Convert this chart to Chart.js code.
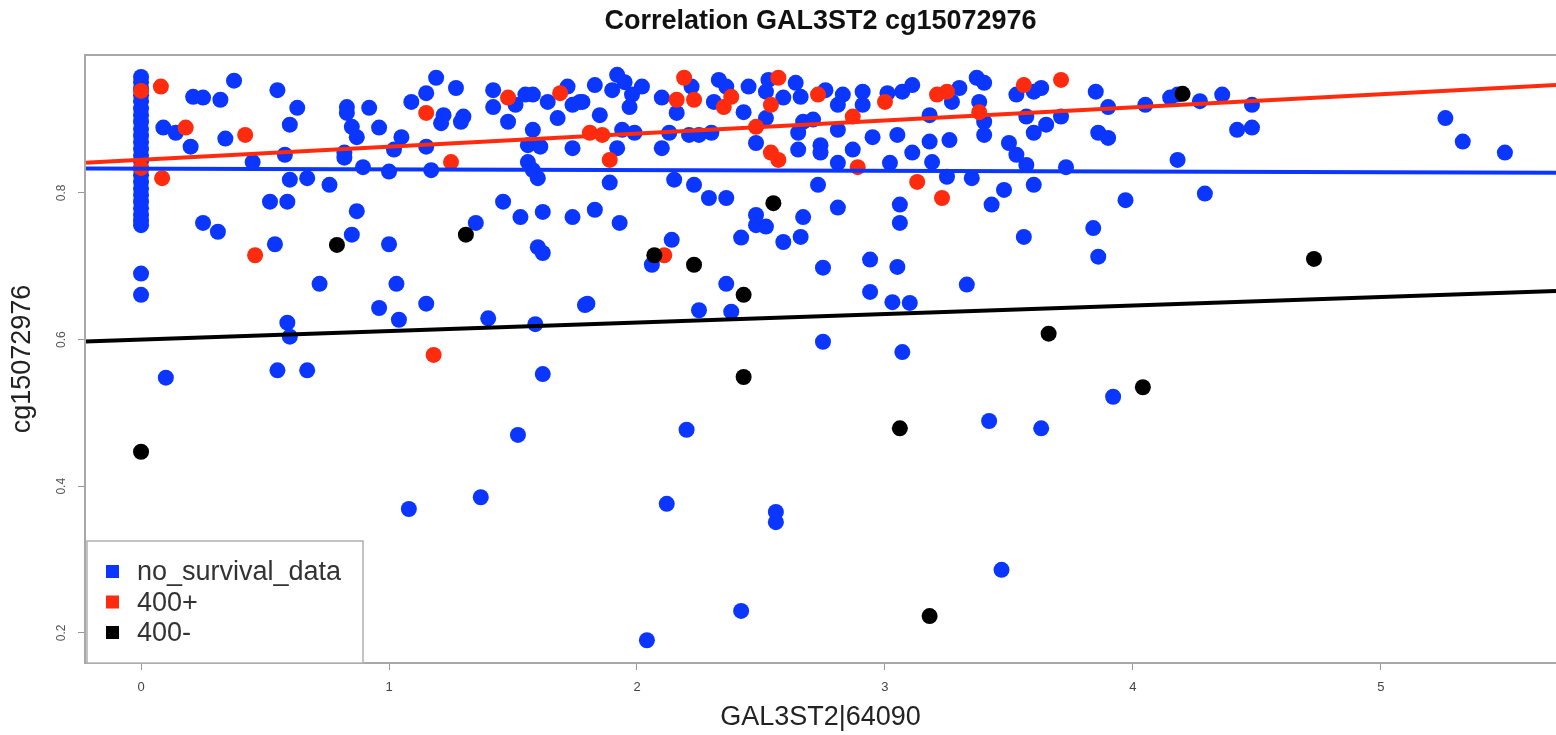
<!DOCTYPE html>
<html>
<head>
  <meta charset="UTF-8" />
  <title>Correlation GAL3ST2 cg15072976</title>
  <script src="https://cdn.jsdelivr.net/npm/chart.js"></script>
  <style>
    body { margin: 0; background: #fff; }
    #wrap { width: 1556px; height: 735px; }
  </style>
</head>
<body>
  <div id="wrap"><canvas id="grafico" width="1556" height="735"></canvas></div>

  <script>
    // valores: [expressão GAL3ST2, metilação cg15072976]
    const noSurvival = [
      [0,0.958],[0,0.951],[0,0.942],[0,0.933],[0,0.925],[0,0.915],[0,0.906],[0,0.897],[0,0.887],
      [0,0.878],[0,0.869],[0,0.860],[0,0.851],[0,0.843],[0,0.833],[0,0.824],[0,0.815],[0,0.806],
      [0,0.797],[0,0.788],[0,0.779],[0,0.770],[0,0.762],[0,0.756],[0,0.690],[0,0.661],
      [0.375,0.953],[0.55,0.940],[0.21,0.931],[0.25,0.930],[0.32,0.927],[0.63,0.916],
      [0.09,0.889],[0.14,0.882],[0.34,0.874],[0.20,0.863],[0.60,0.893],
      [0.83,0.917],[0.83,0.909],[0.92,0.916],[0.85,0.890],[0.87,0.876],[0.96,0.889],
      [1.05,0.876],[1.02,0.859],[0.82,0.855],[0.82,0.848],[0.58,0.852],[0.45,0.842],
      [0.895,0.835],[1.00,0.829],[1.15,0.863],[1.17,0.831],
      [1.09,0.924],[1.15,0.936],[1.19,0.957],[1.27,0.943],[1.22,0.906],[1.21,0.895],[1.30,0.904],[1.29,0.897],
      [1.42,0.940],[1.42,0.917],[1.48,0.897],[1.51,0.920],[1.55,0.934],[1.58,0.934],
      [1.64,0.924],[1.72,0.945],[1.68,0.902],[1.74,0.920],[1.78,0.924],
      [1.58,0.886],[1.56,0.865],[1.61,0.863],[1.56,0.842],[1.58,0.831],[1.60,0.820],[1.74,0.861],
      [0.60,0.818],[0.67,0.820],[0.76,0.811],[0.52,0.788],[0.59,0.788],[0.87,0.775],
      [0.25,0.759],[0.31,0.747],[1.35,0.759],[0.85,0.743],[0.54,0.730],[1.00,0.730],
      [1.46,0.788],[1.53,0.767],[1.62,0.774],[1.74,0.767],[1.60,0.726],[1.62,0.718],
      [0.72,0.676],[1.03,0.676],[0.96,0.643],[1.04,0.627],[1.15,0.649],[1.40,0.629],
      [1.59,0.621],[0.59,0.623],[0.60,0.604],[1.79,0.647],[0.10,0.548],[0.55,0.558],
      [0.67,0.558],[1.62,0.553],
      [1.83,0.947],[1.77,0.924],[1.92,0.961],[1.95,0.951],[1.90,0.940],[1.98,0.934],[2.02,0.945],
      [1.97,0.917],[1.85,0.906],[2.10,0.930],[2.22,0.945],[2.16,0.909],
      [2.33,0.954],[2.36,0.945],[2.31,0.924],[2.45,0.945],
      [2.53,0.954],[2.52,0.938],[2.64,0.950],[2.66,0.931],[2.59,0.930],
      [2.76,0.940],[2.83,0.934],[2.91,0.938],[2.91,0.920],[2.81,0.920],
      [3.01,0.936],[3.07,0.938],[3.11,0.947],
      [3.30,0.943],[3.37,0.957],[3.40,0.950],[3.27,0.924],[3.38,0.924],
      [3.53,0.934],[3.60,0.938],[3.63,0.943],
      [1.92,0.861],[1.94,0.886],[1.99,0.882],[2.10,0.861],[2.13,0.882],
      [2.21,0.879],[2.25,0.879],[2.30,0.882],[2.43,0.910],[2.52,0.902],[2.48,0.868],
      [2.67,0.897],[2.71,0.900],[2.65,0.882],[2.65,0.859],[2.74,0.865],[2.74,0.855],
      [2.81,0.886],[2.87,0.859],[2.81,0.841],[2.95,0.876],[3.05,0.879],[3.02,0.841],
      [3.11,0.855],[3.18,0.870],[3.19,0.842],[3.26,0.872],[3.18,0.906],
      [3.40,0.897],[3.40,0.879],[3.50,0.868],[3.53,0.852],[3.57,0.838],
      [3.57,0.904],[3.60,0.882],[3.65,0.893],[3.71,0.904],[3.73,0.835],
      [1.89,0.814],[2.15,0.818],[2.23,0.811],[2.29,0.793],[2.36,0.793],
      [3.25,0.822],[3.35,0.820],[3.60,0.811],[3.48,0.804],[3.43,0.784],[2.73,0.811],
      [1.83,0.777],[1.93,0.759],[2.48,0.770],[2.52,0.754],[2.48,0.756],
      [2.67,0.767],[2.66,0.740],[2.59,0.733],[2.42,0.739],[2.81,0.780],
      [3.06,0.784],[3.06,0.759],[3.56,0.740],[2.14,0.736],[2.06,0.702],[2.75,0.698],
      [2.94,0.709],[3.05,0.699],[2.36,0.676],[2.94,0.665],[3.33,0.675],
      [3.03,0.651],[3.10,0.650],[1.80,0.649],[2.25,0.640],[2.38,0.638],
      [2.75,0.597],[3.07,0.583],
      [3.85,0.938],[3.90,0.917],[4.05,0.920],[4.15,0.930],[4.18,0.934],[4.27,0.925],
      [4.36,0.934],[4.48,0.920],[3.86,0.882],[3.90,0.875],[4.42,0.886],[4.48,0.889],
      [4.18,0.845],[5.26,0.902],[5.33,0.870],[5.50,0.855],
      [3.97,0.790],[4.29,0.799],[3.84,0.752],[3.86,0.713],
      [3.92,0.522],[1.52,0.470],[2.20,0.477],[3.42,0.489],[3.63,0.479],
      [1.08,0.369],[1.37,0.385],[2.12,0.376],[2.56,0.365],[2.56,0.351],
      [3.47,0.286],[2.42,0.230],[2.04,0.190]
    ];
    const surv400plus = [
      [0,0.939],[0.08,0.945],[0,0.834],[0.085,0.820],[0.18,0.889],[0.42,0.879],
      [0.46,0.715],[1.15,0.909],[1.25,0.842],[1.18,0.579],[1.48,0.930],[1.69,0.936],
      [1.81,0.882],[1.86,0.879],[1.89,0.845],[2.19,0.957],[2.16,0.927],[2.23,0.927],
      [2.38,0.931],[2.35,0.917],[2.57,0.957],[2.54,0.920],[2.73,0.934],[3.00,0.924],
      [3.21,0.934],[3.25,0.938],[3.56,0.947],[3.71,0.954],[2.48,0.890],[2.54,0.855],
      [2.57,0.845],[2.87,0.904],[2.89,0.835],[3.38,0.910],[3.13,0.815],[3.23,0.793],
      [2.11,0.715]
    ];
    const surv400minus = [
      [0,0.447],[0.79,0.729],[1.31,0.743],[2.07,0.715],[2.23,0.702],[2.43,0.661],
      [2.55,0.786],[2.43,0.549],[3.06,0.479],[3.18,0.223],[3.66,0.608],[4.04,0.535],
      [4.20,0.935],[4.73,0.710]
    ];
    // retas de regressão [intercepto, inclinação]
    const fitNoSurvival = [0.833, -0.001];
    const fit400plus = [0.845, 0.0179];
    const fit400minus = [0.600, 0.0116];

    const xLimits = [-0.226, 5.706];
    const yLimits = [0.159, 0.988];
    const xTickValues = [0, 1, 2, 3, 4, 5];
    const yTickValues = [0.2, 0.4, 0.6, 0.8];

    const AZUL = '#0a36ff';
    const VERMELHO = '#ff2b0e';
    const PRETO = '#000000';
    const FONTE = '"Liberation Sans", Arial, Helvetica, sans-serif';

    const pontos = arr => arr.map(p => ({ x: p[0], y: p[1] }));
    const reta = f => xLimits.map(x => ({ x: x, y: f[0] + f[1] * x }));

    function serie(label, data, cor, ordem) {
      return { label, data: pontos(data), backgroundColor: cor, borderColor: cor,
               borderWidth: 0, pointRadius: 8, pointHoverRadius: 8, order: ordem };
    }
    function linha(data, cor) {
      return { type: 'line', data: reta(data), borderColor: cor, borderWidth: 4,
               pointRadius: 0, fill: false, order: 0, legendHidden: true };
    }

    const extras = {
      id: 'extras',
      afterDraw(chart) {
        const ctx = chart.ctx;
        const area = chart.chartArea;
        const y = chart.scales.y;
        ctx.save();

        // caixa do gráfico
        ctx.strokeStyle = '#a8a8a8';
        ctx.lineWidth = 2;
        ctx.strokeRect(area.left, area.top, area.right - area.left + 10, area.bottom - area.top);

        // rótulos do eixo y (girados)
        ctx.fillStyle = '#555';
        ctx.font = '12px ' + FONTE;
        ctx.textAlign = 'center';
        ctx.textBaseline = 'middle';
        yTickValues.forEach(v => {
          ctx.save();
          ctx.translate(62, y.getPixelForValue(v));
          ctx.rotate(-Math.PI / 2);
          ctx.fillText(v.toFixed(1), 0, 0);
          ctx.restore();
        });

        // título
        ctx.fillStyle = '#111';
        ctx.font = 'bold 27px ' + FONTE;
        ctx.fillText('Correlation GAL3ST2 cg15072976', (area.left + area.right) / 2, 22);

        // legenda
        const lx = area.left + 2, ly = area.bottom - 122, lw = 276, lh = 122;
        ctx.fillStyle = '#fff';
        ctx.fillRect(lx, ly, lw, lh);
        ctx.strokeStyle = '#b0b0b0';
        ctx.lineWidth = 1.5;
        ctx.strokeRect(lx, ly, lw, lh);
        ctx.font = '27px ' + FONTE;
        ctx.textAlign = 'left';
        chart.data.datasets.filter(d => !d.legendHidden).forEach((d, i) => {
          const cy = ly + 31 + i * 30.5;
          ctx.fillStyle = d.backgroundColor;
          ctx.fillRect(lx + 19, cy - 7, 13, 13);
          ctx.fillStyle = '#333';
          ctx.fillText(d.label, lx + 50, cy + 1);
        });
        ctx.restore();
      }
    };

    new Chart(document.getElementById('grafico'), {
      type: 'scatter',
      data: {
        datasets: [
          serie('no_survival_data', noSurvival, AZUL, 3),
          serie('400+', surv400plus, VERMELHO, 2),
          serie('400-', surv400minus, PRETO, 1),
          linha(fitNoSurvival, AZUL),
          linha(fit400plus, VERMELHO),
          linha(fit400minus, PRETO)
        ]
      },
      options: {
        responsive: false,
        animation: false,
        layout: { autoPadding: false, padding: { top: 55, left: 0, right: 0, bottom: 0 } },
        plugins: { legend: { display: false }, tooltip: { enabled: false } },
        scales: {
          x: {
            type: 'linear', min: xLimits[0], max: xLimits[1],
            afterBuildTicks: s => { s.ticks = xTickValues.map(v => ({ value: v })); },
            afterFit: s => { s.height = 72; },
            grid: { drawOnChartArea: false, drawTicks: true, tickLength: 7, color: '#999' },
            border: { display: false },
            ticks: { font: { size: 13, family: FONTE }, color: '#444', padding: 10 },
            title: { display: true, text: 'GAL3ST2|64090', color: '#222',
                     font: { size: 27, family: FONTE }, padding: { top: 0, bottom: 1 } }
          },
          y: {
            type: 'linear', min: yLimits[0], max: yLimits[1],
            afterBuildTicks: s => { s.ticks = yTickValues.map(v => ({ value: v })); },
            afterFit: s => { s.width = 85; },
            grid: { drawOnChartArea: false, drawTicks: true, tickLength: 7, color: '#999' },
            border: { display: false },
            ticks: { display: false },
            title: { display: true, text: 'cg15072976', color: '#222',
                     font: { size: 27, family: FONTE }, padding: { top: 6, bottom: 0 } }
          }
        }
      },
      plugins: [extras]
    });
  </script>
</body>
</html>
